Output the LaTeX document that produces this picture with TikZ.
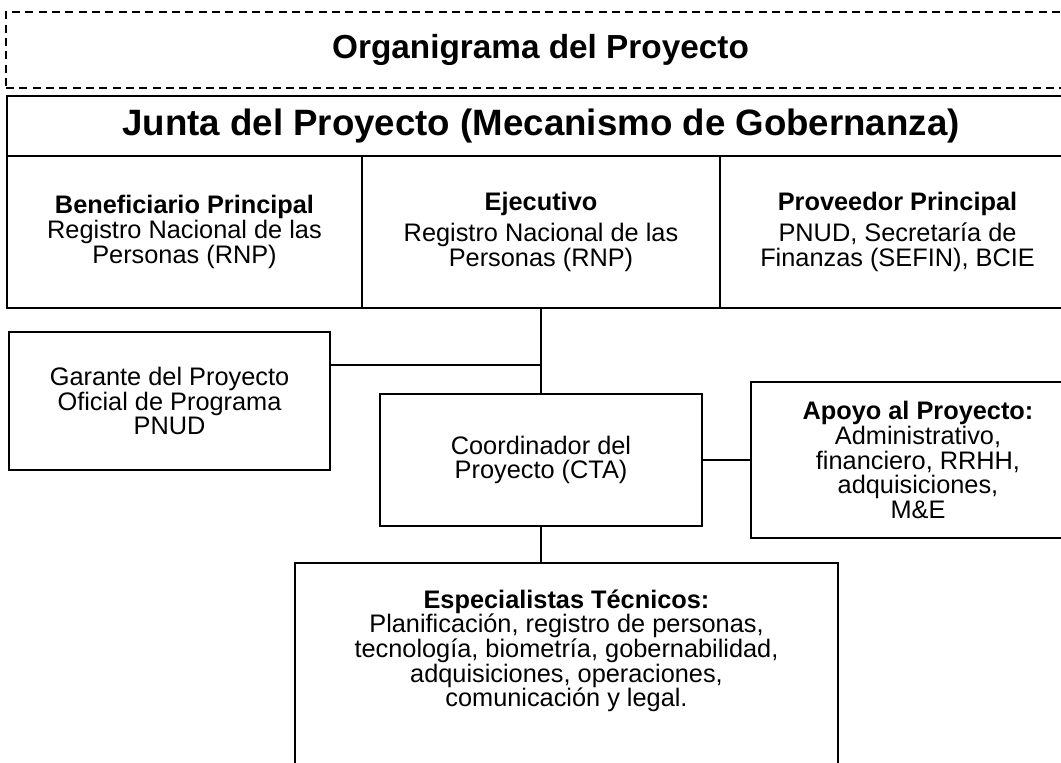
\documentclass[tikz,border=0pt]{standalone}
\usepackage{fontspec}
\setmainfont{Liberation Sans}

\begin{document}
\begin{tikzpicture}
  [x=0.75pt,y=-0.75pt,line width=1.3pt,
   every node/.style={draw,rectangle,align=center,inner sep=0pt,
     font=\fontsize{19}{18.5}\selectfont},
   cabecera/.style={font=\bfseries\fontsize{25}{30}\selectfont}]

  \useasboundingbox (0,0) rectangle (1061,763);
  \clip (0,0) rectangle (1061,763);

  \node (titulo) at (540.5,50) [cabecera,dash pattern=on 6pt off 4pt,
    minimum width=1069*0.75pt,minimum height=76*0.75pt] {Organigrama del Proyecto};
  \node (junta) at (541,126) [cabecera,font=\bfseries\fontsize{27.5}{30}\selectfont,
    minimum width=1068*0.75pt,minimum height=60*0.75pt] {Junta del Proyecto (Mecanismo de Gobernanza)};

  \node (benef) at (184.5,232) [minimum width=355*0.75pt,minimum height=152*0.75pt]
    {\textbf{Beneficiario Principal}\\Registro Nacional de las\\Personas (RNP)};
  \node (ejec) at (541,232) [minimum width=358*0.75pt,minimum height=152*0.75pt]
    {\textbf{Ejecutivo}\\[5pt]Registro Nacional de las\\Personas (RNP)};
  \node (prov) at (897.5,232) [minimum width=355*0.75pt,minimum height=152*0.75pt]
    {\textbf{Proveedor Principal}\\[5pt]PNUD, Secretaría de\\Finanzas (SEFIN), BCIE};

  \node (garante) at (169.5,401) [minimum width=321*0.75pt,minimum height=138*0.75pt]
    {Garante del Proyecto\\Oficial de Programa\\PNUD};
  \node (coord) at (541,460) [minimum width=322*0.75pt,minimum height=132*0.75pt]
    {Coordinador del\\Proyecto (CTA)};
  \node (apoyo) at (918,460) [minimum width=334*0.75pt,minimum height=156*0.75pt]
    {\textbf{Apoyo al Proyecto:}\\Administrativo,\\financiero, RRHH,\\adquisiciones,\\M\&E};

  % caja de especialistas (sigue por debajo del corte)
  \node (espec) at (566.5,690) [minimum width=543*0.75pt,minimum height=254*0.75pt] {};
  \node (especTexto) at (566.5,651) [draw=none]
    {\textbf{Especialistas Técnicos:}\\Planificación, registro de personas,\\tecnología, biometría, gobernabilidad,\\adquisiciones, operaciones,\\comunicación y legal.};

  \coordinate (cruce) at (541,365);
  \draw (garante.east |- cruce) -- (cruce);
  \foreach \from/\to in {ejec.south/coord.north,coord.east/apoyo.west,coord.south/coord.south |- espec.north}
    \draw (\from) -- (\to);
\end{tikzpicture}
\end{document}
